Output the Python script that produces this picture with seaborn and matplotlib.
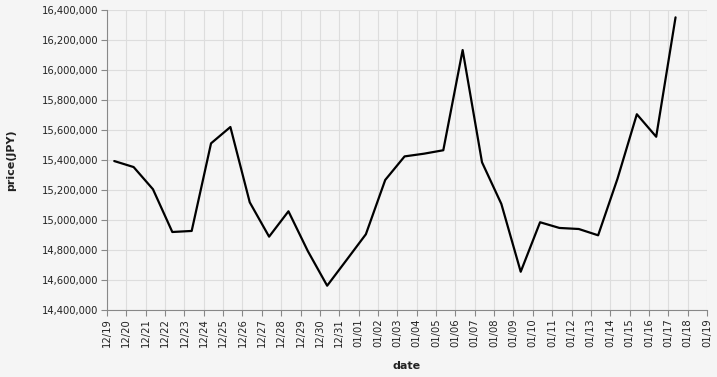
import matplotlib
matplotlib.use("Agg")
import matplotlib.pyplot as plt
import matplotlib.dates as mdates
import matplotlib.ticker as mticker
import seaborn as sns
import pandas as pd
import numpy as np

dates = pd.date_range("2023-12-19 09:00", periods=30, freq="D")
prices = [15393000, 15353000, 15205000, 14920000, 14927000, 15511000, 15620000,
          15118000, 14889000, 15058000, 14793000, 14562000, 14733000, 14905000,
          15267000, 15424000, 15442000, 15465000, 16133000, 15385000, 15107000,
          14655000, 14985000, 14947000, 14940000, 14898000, 15275000, 15705000,
          15555000, 16351000]

df = pd.DataFrame({"date": dates, "price": prices})

sns.set_theme(style="whitegrid")
plt.rcParams['font.family'] = ['DejaVu Sans']

fig = plt.figure(figsize=(7.17, 3.77), dpi=100, facecolor="#f5f5f5")
ax = fig.add_axes([107/717, 67/377, 600/717, 300/377])
ax.set_facecolor("#f5f5f5")

sns.lineplot(data=df, x="date", y="price", ax=ax, color="black", linewidth=1.6)

ax.set_xlim(pd.Timestamp("2023-12-19"), pd.Timestamp("2024-01-19"))
ax.set_ylim(14400000, 16400000)
ax.xaxis.set_major_locator(mdates.DayLocator())
ax.xaxis.set_major_formatter(mdates.DateFormatter("%m/%d"))
ax.yaxis.set_major_locator(mticker.MultipleLocator(200000))
ax.yaxis.set_major_formatter(mticker.FuncFormatter(lambda v, p: f"{int(round(v)):,}"))
plt.setp(ax.get_xticklabels(), rotation=90)

ax.grid(True, color="#dddddd", linewidth=0.8)
for s in ["top", "right"]:
    ax.spines[s].set_visible(False)
for s in ["left", "bottom"]:
    ax.spines[s].set_color("#888888")
    ax.spines[s].set_linewidth(0.8)
ax.tick_params(axis="both", which="major", length=4, width=0.8, color="#888888",
               labelsize=7.2, labelcolor="#222222", pad=2, left=True, bottom=True)

ax.set_xlabel("date", fontsize=8, fontweight="bold", color="#222222", labelpad=10)
ax.set_ylabel("price(JPY)", fontsize=8, fontweight="bold", color="#222222", labelpad=19)

fig.savefig("out.png", dpi=100, facecolor=fig.get_facecolor())
